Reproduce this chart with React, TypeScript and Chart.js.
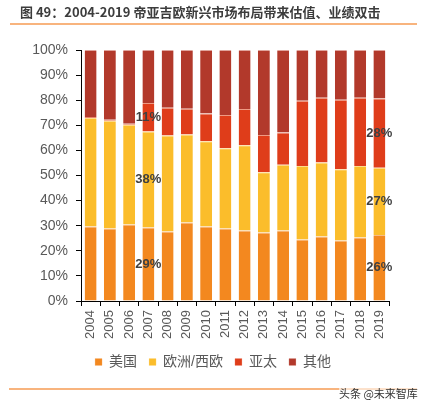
import React, { useEffect, useRef } from "react";
import { Chart, registerables } from "chart.js";

Chart.register(...registerables);

const years = ["2004","2005","2006","2007","2008","2009","2010","2011","2012","2013","2014","2015","2016","2017","2018","2019"];
const usValues = [29.7, 28.9, 30.5, 29.3, 27.7, 31.3, 29.7, 28.9, 28.1, 27.3, 28.1, 24.5, 25.7, 24.1, 25.3, 26.3];
const euValues = [43.2, 42.9, 39.7, 38.2, 38.2, 35.0, 33.9, 32.0, 34.0, 24.0, 26.2, 29.3, 29.5, 28.4, 28.5, 26.8];
const apValues = [0.4, 0.4, 0.4, 11.4, 11.1, 10.3, 11.1, 13.2, 14.4, 14.8, 12.8, 26.0, 25.8, 27.7, 27.2, 27.6];
const otherValues = [26.7, 27.8, 29.4, 21.1, 23.0, 23.4, 25.3, 25.9, 23.5, 33.9, 32.9, 20.2, 19.0, 19.8, 19.0, 19.3];
const seriesNames = ["美国", "欧洲/西欧", "亚太", "其他"];
const labelledYears = ["2007", "2019"];
const yTicks = [0, 10, 20, 30, 40, 50, 60, 70, 80, 90, 100];

const FONT = "'Liberation Sans', Arial, 'Noto Sans CJK SC', sans-serif";

const segmentLabels = {
  id: "segmentLabels",
  afterDatasetsDraw(chart: any) {
    const ctx = chart.ctx;
    ctx.save();
    ctx.font = `bold 13px ${FONT}`;
    ctx.fillStyle = "#404040";
    ctx.textAlign = "center";
    ctx.textBaseline = "middle";
    labelledYears.forEach((yr) => {
      const idx = years.indexOf(yr);
      [0, 1, 2].forEach((di) => {
        const meta = chart.getDatasetMeta(di);
        const el = meta.data[idx];
        const v = chart.data.datasets[di].data[idx];
        const cy = (el.y + el.base) / 2;
        ctx.fillText(Math.round(v) + "%", el.x, cy);
      });
    });
    ctx.restore();
  },
};

export default function App() {
  const ref = useRef<HTMLCanvasElement>(null);
  useEffect(() => {
    document.body.style.margin = "0";
    const colors = ["#F3881F", "#FBBD2B", "#DF3D1A", "#B2392B"];
    const borders = ["#F7BC85", "#FDDC8A", "#EE9A84", "#E0A49C"];
    const vals = [usValues, euValues, apValues, otherValues];
    const chart = new Chart(ref.current!, {
      type: "bar",
      data: {
        labels: years,
        datasets: vals.map((d, i) => ({
          label: seriesNames[i],
          data: d,
          backgroundColor: colors[i],
          borderColor: borders[i],
          borderWidth: { top: 1, left: 0, right: 0, bottom: 0 },
          borderSkipped: false,
          categoryPercentage: 1,
          barPercentage: 0.62,
        })),
      },
      options: {
        animation: false,
        responsive: false,
        devicePixelRatio: 1,
        layout: { padding: { top: 50, left: 0, right: 0, bottom: 29 } },
        plugins: {
          tooltip: { enabled: false },
          legend: {
            position: "bottom",
            labels: {
              boxWidth: 7,
              boxHeight: 7,
              padding: 12,
              color: "#595959",
              font: { size: 14, family: FONT },
            },
          },
        },
        scales: {
          x: {
            stacked: true,
            grid: { offset: true, drawOnChartArea: false, drawTicks: true, tickLength: 5, color: "#000" },
            border: { color: "#000", width: 1 },
            ticks: {
              autoSkip: false,
              minRotation: 90,
              maxRotation: 90,
              padding: 4,
              color: "#595959",
              font: { size: 13, family: FONT },
            },
            afterFit: (s: any) => { s.height = 42; },
          },
          y: {
            stacked: true,
            min: 0,
            max: 100,
            grid: { drawOnChartArea: false, drawTicks: true, tickLength: 5, color: "#000" },
            border: { color: "#000", width: 1 },
            ticks: {
              stepSize: 10,
              padding: 8,
              color: "#595959",
              font: { size: 14, family: FONT },
              callback: (v: any) => (yTicks.includes(v) ? v + "%" : ""),
            },
            afterFit: (s: any) => { s.width = 81; },
          },
          spacer: {
            type: "linear",
            position: "right",
            display: true,
            min: 0,
            max: 100,
            grid: { display: false, drawTicks: false },
            border: { display: false },
            ticks: { display: false },
            afterFit: (s: any) => { s.width = 37; },
          },
        },
      },
      plugins: [segmentLabels],
    });
    return () => chart.destroy();
  }, []);

  return (
    <div style={{ position: "absolute", left: 0, top: 0, width: 426, height: 408, background: "#fff", fontFamily: FONT }}>
      <canvas ref={ref} width={426} height={408} style={{ position: "absolute", left: 0, top: 0 }} />
      <div style={{ position: "absolute", left: 20, top: 3, fontSize: 13, fontWeight: "bold", color: "#3c3c3c", whiteSpace: "nowrap", fontFamily: "'Noto Sans CJK SC', sans-serif", lineHeight: "18px" }}>
        图 49：2004-2019 帝亚吉欧新兴市场布局带来估值、业绩双击
      </div>
      <div style={{ position: "absolute", left: 10, top: 23, width: 407, height: 2, background: "#F8B47E" }} />
      <div style={{ position: "absolute", left: 9, top: 388, width: 408, height: 2, background: "#F8B47E" }} />
      <div style={{ position: "absolute", left: 339, top: 385, fontSize: 11, color: "#333", whiteSpace: "nowrap", fontFamily: "'Noto Sans CJK SC', sans-serif", lineHeight: "16px", background: "rgba(255,255,255,0.6)" }}>
        头条 @未来智库
      </div>
    </div>
  );
}
